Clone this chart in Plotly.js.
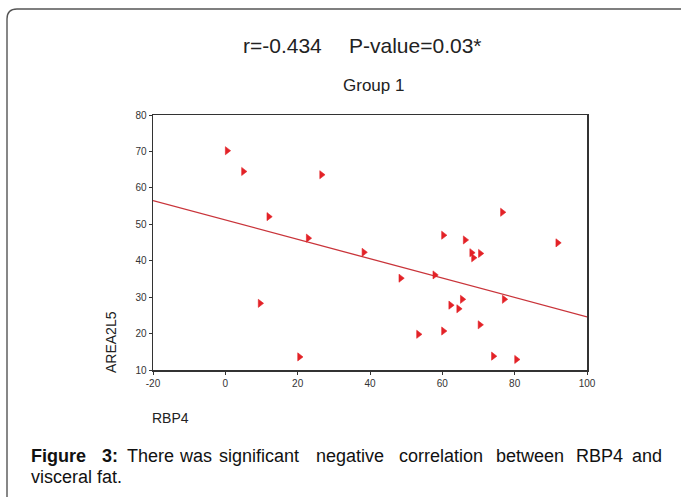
<!DOCTYPE html>
<html>
<head>
<meta charset="utf-8">
<script src="https://cdn.plot.ly/plotly-3.0.1.min.js"></script>
<style>
  html, body { margin: 0; padding: 0; background: #fff; }
  #chart { width: 681px; height: 498px; }
</style>
</head>
<body>
<div id="chart"></div>
<script>
// ---- data ----
var rbp4 = [0.5, 5, 26.6, 12, 22.9, 9.6, 20.5, 38.3, 48.5, 57.9, 60.3, 66.3, 76.6, 91.9,
            68.1, 68.6, 70.5, 65.5, 62.3, 64.5, 77.1, 70.4, 53.4, 60.3, 74.1, 80.5];
var areaA2L5 = [70.2, 64.5, 63.6, 52.1, 46.2, 28.3, 13.6, 42.3, 35.2, 36.1, 47.0, 45.7, 53.3, 44.9,
                42.2, 40.8, 42.0, 29.4, 27.8, 26.8, 29.4, 22.4, 19.8, 20.7, 13.8, 12.9];
var fitX = [-20, 100];
var fitY = [56.5, 24.6];
var xTicks = [-20, 0, 20, 40, 60, 80, 100];
var yTicks = [10, 20, 30, 40, 50, 60, 70, 80];
var statText = ["r=-0.434", "P-value=0.03*"];
var subTitle = "Group 1";
var xLabel = "RBP4";
var yLabel = "AREA2L5";
var captionLine1 = ["<b>Figure</b>", "<b>3:</b>", "There", "was", "significant", "negative",
                    "correlation", "between", "RBP4", "and"];
var captionLine2 = "visceral fat.";

// ---- layout geometry (pixels) ----
var W = 681, H = 498;
var L = 153, R = 587, T = 115, B = 370;
function px(x) { return (x - L) / (R - L); }
function py(y) { return (B - y) / (B - T); }

var FONT = "Liberation Sans, Arial, sans-serif";

var traces = [
  {
    x: fitX, y: fitY, type: "scatter", mode: "lines",
    line: { color: "#c9343a", width: 1.3 },
    hoverinfo: "skip", showlegend: false
  },
  {
    x: rbp4, y: areaA2L5, type: "scatter", mode: "markers",
    marker: { symbol: "triangle-right", size: 7, color: "#e32227",
              line: { width: 0.6, color: "#e32227" } },
    showlegend: false
  }
];

var annotations = [];
function ann(text, xPix, yPix, size, xanchor, extra) {
  var a = {
    text: text, xref: "paper", yref: "paper",
    x: px(xPix), y: py(yPix), xanchor: xanchor || "center", yanchor: "middle",
    showarrow: false, font: { family: FONT, size: size, color: "#222" }
  };
  if (extra) for (var k in extra) a[k] = extra[k];
  annotations.push(a);
}
ann(statText[0], 282, 45, 21);
ann(statText[1], 415, 45, 21);
ann(subTitle, 373, 86, 17);
ann(xLabel, 170, 418, 14);
ann(yLabel, 111, 342, 14, "center", { textangle: -90 });

var wordCenters = [29, 110, 150, 195, 259, 349.5, 440.5, 530, 599, 664];
var wordAnchors = ["left", "center", "center", "center", "center", "center", "center", "center", "center", "right"];
for (var i = 0; i < captionLine1.length; i++) {
  ann(captionLine1[i], wordCenters[i], 456, 18, wordAnchors[i], { font: { family: FONT, size: 18, color: "#111" } });
}
ann(captionLine2, 29, 477, 18, "left", { font: { family: FONT, size: 18, color: "#111" } });

// rounded frame (top and left edges)
var fx0 = 7, fy0 = 9, rad = 10;
var framePath = "M " + px(fx0) + "," + py(497) +
  " L " + px(fx0) + "," + py(fy0 + rad) +
  " Q " + px(fx0) + "," + py(fy0) + " " + px(fx0 + rad) + "," + py(fy0) +
  " L " + px(681) + "," + py(fy0);

var layout = {
  width: W, height: H,
  margin: { l: L, r: W - R, t: T, b: H - B, pad: 0 },
  paper_bgcolor: "#fff", plot_bgcolor: "#fff",
  showlegend: false,
  xaxis: {
    range: [-20, 100], tickvals: xTicks, ticktext: xTicks.map(String),
    showgrid: false, zeroline: false,
    showline: true, linecolor: "#333", linewidth: 1.5, mirror: true,
    ticks: "outside", ticklen: 3, tickcolor: "#333", tickwidth: 1,
    tickfont: { family: FONT, size: 10, color: "#333" }
  },
  yaxis: {
    range: [10, 80], tickvals: yTicks, ticktext: yTicks.map(String),
    showgrid: false, zeroline: false,
    showline: true, linecolor: "#333", linewidth: 1.5, mirror: true,
    ticks: "outside", ticklen: 3, tickcolor: "#333", tickwidth: 1,
    tickfont: { family: FONT, size: 10, color: "#333" }
  },
  annotations: annotations,
  shapes: [{
    type: "path", xref: "paper", yref: "paper", path: framePath,
    line: { color: "#555", width: 1.4 }
  }]
};

Plotly.newPlot("chart", traces, layout, { displayModeBar: false, staticPlot: true });
</script>
</body>
</html>
